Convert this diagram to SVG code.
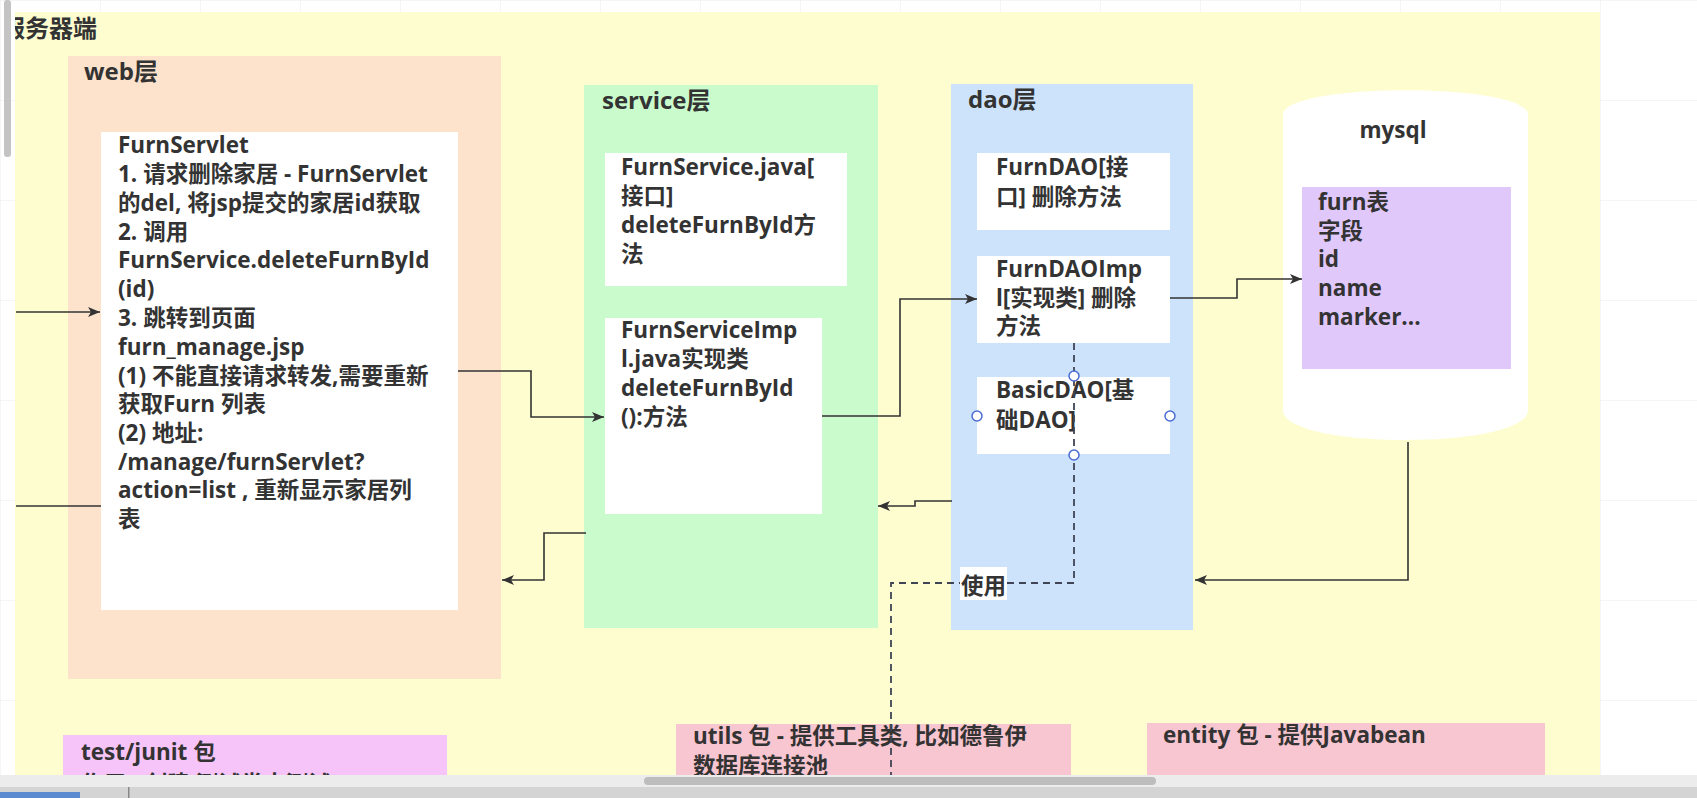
<svg xmlns="http://www.w3.org/2000/svg" width="1697" height="798" viewBox="0 0 1697 798">
<style>
.t{font-family:"Open Sans","Noto Sans CJK SC",sans-serif;font-weight:bold;font-size:22.5px;fill:#333}
.h{font-family:"Open Sans","Noto Sans CJK SC",sans-serif;font-weight:bold;font-size:24px;fill:#333}
.box{fill:#ffffff}
.con{fill:none;stroke:#333;stroke-width:1.6}
.dash{fill:none;stroke:#3f4555;stroke-width:1.8;stroke-dasharray:7 5}
.hd{fill:#fff;stroke:#4a6cd4;stroke-width:1.5}
</style>
<defs>
<marker id="arr" viewBox="0 0 12 10" refX="12" refY="5" markerWidth="12" markerHeight="10" markerUnits="userSpaceOnUse" orient="auto">
<path d="M0,0 L12,5 L0,10 L3,5 Z" fill="#333"/>
</marker>
<pattern id="grid" width="100" height="100" patternUnits="userSpaceOnUse">
<path d="M0,0 H100 M0,0 V100" fill="none" stroke="#ececec" stroke-width="1"/>
</pattern>
<clipPath id="yclip"><rect x="15" y="12" width="1585" height="763"/></clipPath>
</defs>
<rect width="1697" height="798" fill="#ffffff"/>
<rect width="1697" height="798" fill="url(#grid)"/>
<rect x="4" y="0" width="7" height="157" rx="3" fill="#c4c4c4"/>
<g id="server">
<rect x="15" y="12" width="1585" height="763" fill="#fefdd0"/>
<text class="h" x="1" y="37" clip-path="url(#yclip)">服务器端</text>
</g>
<g id="web">
<rect x="68" y="56" width="433" height="623" fill="#fde3cc"/>
<text class="h" x="84" y="80">web层</text>
</g>
<g id="furnServlet">
<rect class="box" x="101" y="132" width="357" height="478"/>
<text class="t" x="118" y="153">FurnServlet</text>
<text class="t" x="118" y="182">1. 请求删除家居 - FurnServlet</text>
<text class="t" x="118" y="211">的del, 将jsp提交的家居id获取</text>
<text class="t" x="118" y="240">2. 调用</text>
<text class="t" x="118" y="268">FurnService.deleteFurnById</text>
<text class="t" x="118" y="297">(id)</text>
<text class="t" x="118" y="326">3. 跳转到页面</text>
<text class="t" x="118" y="355">furn_manage.jsp</text>
<text class="t" x="118" y="384">(1) 不能直接请求转发,需要重新</text>
<text class="t" x="118" y="412">获取Furn 列表</text>
<text class="t" x="118" y="441">(2) 地址:</text>
<text class="t" x="118" y="470">/manage/furnServlet?</text>
<text class="t" x="118" y="498">action=list , 重新显示家居列</text>
<text class="t" x="118" y="527">表</text>
</g>
<g id="service">
<rect x="584" y="85" width="294" height="543" fill="#cafbcc"/>
<text class="h" x="602" y="109">service层</text>
</g>
<g id="furnService">
<rect class="box" x="605" y="153" width="242" height="133"/>
<text class="t" x="621" y="175">FurnService.java[</text>
<text class="t" x="621" y="204">接口]</text>
<text class="t" x="621" y="233">deleteFurnById方</text>
<text class="t" x="621" y="262">法</text>
</g>
<g id="furnServiceImpl">
<rect class="box" x="605" y="318" width="217" height="196"/>
<text class="t" x="621" y="338">FurnServiceImp</text>
<text class="t" x="621" y="367">l.java实现类</text>
<text class="t" x="621" y="396">deleteFurnById</text>
<text class="t" x="621" y="425">():方法</text>
</g>
<g id="dao">
<rect x="951" y="84" width="242" height="546" fill="#cde3fb"/>
<text class="h" x="968" y="108">dao层</text>
</g>
<g id="furnDAO">
<rect class="box" x="977" y="153" width="193" height="77"/>
<text class="t" x="996" y="175">FurnDAO[接</text>
<text class="t" x="996" y="205">口] 删除方法</text>
</g>
<g id="furnDAOImpl">
<rect class="box" x="977" y="256" width="193" height="87"/>
<text class="t" x="996" y="277">FurnDAOImp</text>
<text class="t" x="996" y="306">l[实现类] 删除</text>
<text class="t" x="996" y="334">方法</text>
</g>
<g id="basicDAO">
<rect class="box" x="977" y="377" width="193" height="77"/>
<text class="t" x="996" y="398">BasicDAO[基</text>
<text class="t" x="996" y="428">础DAO]</text>
</g>
<g id="mysql">
<path d="M1283,115 C1283,82 1528,82 1528,115 L1528,410 C1528,450 1283,450 1283,410 Z" fill="#ffffff"/>
<text class="t" x="1393" y="138" text-anchor="middle">mysql</text>
<rect x="1302" y="187" width="209" height="182" fill="#e0c8fa"/>
<text class="t" x="1318" y="210">furn表</text>
<text class="t" x="1318" y="239">字段</text>
<text class="t" x="1318" y="267">id</text>
<text class="t" x="1318" y="296">name</text>
<text class="t" x="1318" y="325">marker...</text>
</g>
<g id="testJunit">
<rect x="63" y="735" width="384" height="40" fill="#f6c4f8"/>
<text class="t" x="81" y="760">test/junit 包</text>
<text class="t" x="81" y="792" font-size="18">作用 - 创建 测试类来测试</text>
</g>
<g id="utils">
<rect x="676" y="724" width="395" height="51" fill="#f8c6d0"/>
<text class="t" x="693" y="744" font-size="20">utils 包 - 提供工具类, 比如德鲁伊</text>
<text class="t" x="693" y="774" font-size="20">数据库连接池</text>
</g>
<g id="entity">
<rect x="1147" y="723" width="398" height="52" fill="#f8c6d0"/>
<text class="t" x="1163" y="743" font-size="20.5">entity 包 - 提供Javabean</text>
</g>
<g id="connectors">
<path class="con" d="M16,312 H100" marker-end="url(#arr)"/>
<path class="con" d="M101,506 H16"/>
<path class="con" d="M458,371 H531 V417 H604" marker-end="url(#arr)"/>
<path class="con" d="M586,533 H544 V580 H502" marker-end="url(#arr)"/>
<path class="con" d="M822,416 H900 V299 H977" marker-end="url(#arr)"/>
<path class="con" d="M952,501 H915 V506 H878" marker-end="url(#arr)"/>
<path class="con" d="M1170,298 H1237 V279 H1302" marker-end="url(#arr)"/>
<path class="con" d="M1408,442 V580 H1195" marker-end="url(#arr)"/>
<path class="dash" d="M1074,343 V583 H891 V790"/>
<rect x="960" y="567" width="47" height="33" fill="#ffffff"/>
<text class="t" x="961" y="594">使用</text>
<circle class="hd" cx="1074" cy="376" r="5"/>
<circle class="hd" cx="1074" cy="455" r="5"/>
<circle class="hd" cx="977" cy="416" r="5"/>
<circle class="hd" cx="1170" cy="416" r="5"/>
</g>
<rect x="0" y="775" width="1697" height="12" fill="#ececec"/>
<rect x="644" y="777" width="512" height="8" rx="4" fill="#bdbdbd"/>
<rect x="0" y="787" width="1697" height="11" fill="#d4d4d4"/>
<rect x="0" y="792" width="80" height="6" fill="#5b8ad0"/>
<rect x="128" y="787" width="1.5" height="11" fill="#888"/>
</svg>
